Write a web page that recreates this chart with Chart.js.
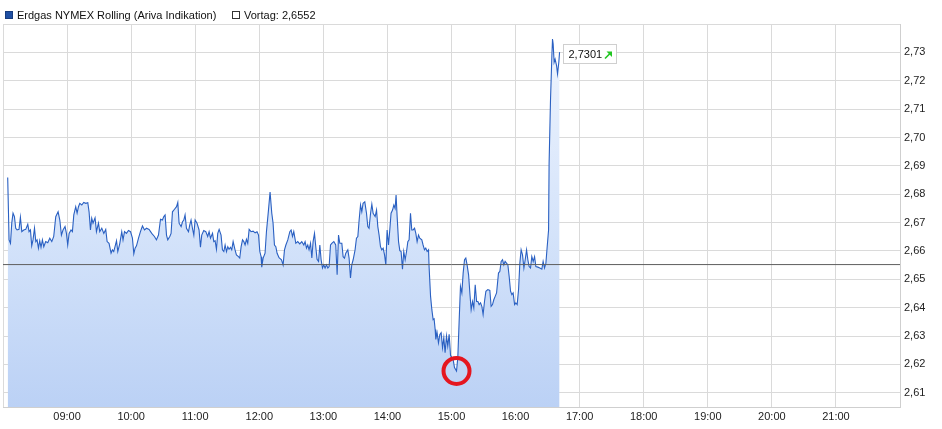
<!DOCTYPE html>
<html><head><meta charset="utf-8">
<script src="https://cdn.jsdelivr.net/npm/chart.js@4.4.1/dist/chart.umd.min.js"></script>
<style>html,body{margin:0;padding:0;background:#fff;overflow:hidden}#wrap{width:942px;height:429px;position:relative}</style>
</head><body><div id="wrap"><canvas id="c" width="942" height="429"></canvas></div>
<script>
const seriesName = 'Erdgas NYMEX Rolling (Ariva Indikation)';
const vortagLabel = 'Vortag';
const vortag = 2.6552;
// minutes after 08:00
const times = [4.4,5.7,7.0,8.2,9.4,10.7,11.9,13.2,15.0,16.3,17.6,19.4,21.3,23.2,24.4,25.7,26.9,28.1,29.5,30.7,31.9,33.2,34.4,35.6,36.9,38.2,40.0,41.9,43.8,45.7,47.5,49.4,51.6,53.2,54.7,56.2,58.1,59.4,60.6,61.9,63.7,65.0,66.3,68.1,69.4,70.7,71.9,73.8,75.6,77.5,79.4,80.6,81.9,83.1,84.3,86.2,87.5,89.4,90.6,92.5,94.4,96.2,97.5,99.3,101.2,102.5,103.7,104.9,106.3,107.5,109.3,111.2,112.4,113.8,115.6,117.5,119.4,121.2,122.5,123.7,125.0,126.9,128.7,130.6,132.5,134.4,136.8,139.3,141.8,143.7,145.6,147.5,149.3,150.6,151.8,153.1,154.3,156.2,157.4,158.7,160.6,162.5,163.7,164.9,166.8,168.1,169.3,170.5,171.8,173.7,174.9,176.1,177.4,178.7,179.9,181.7,183.6,184.9,186.1,188.0,189.9,191.7,193.0,194.3,196.2,197.4,198.6,199.9,201.1,202.4,204.2,205.5,206.8,208.0,209.3,210.5,211.7,213.0,214.2,215.5,217.3,218.6,220.5,221.7,223.0,224.3,225.5,226.7,228.0,229.2,230.5,232.3,234.2,236.1,237.9,239.3,240.5,241.7,242.3,243.6,245.4,246.7,248.6,250.1,251.7,252.9,254.2,255.5,256.7,258.5,260.8,262.3,263.6,264.9,266.7,268.6,269.8,271.1,272.3,274.2,276.0,277.9,279.8,281.7,282.9,284.2,285.4,286.6,288.0,289.2,290.4,291.7,292.9,294.1,295.5,296.7,297.9,299.2,300.4,301.6,302.9,304.2,305.4,306.7,307.9,309.8,311.6,312.9,314.2,315.4,317.3,318.5,319.8,321.0,322.9,324.1,325.4,326.6,327.9,329.7,331.0,332.3,333.5,334.8,336.0,337.2,338.8,340.4,341.6,342.8,344.2,345.4,346.6,348.5,349.8,351.0,352.2,353.5,354.7,356.0,357.3,358.5,359.7,361.0,362.2,363.4,364.8,366.0,367.2,368.1,369.1,370.4,371.6,372.8,374.1,375.3,376.6,377.9,379.1,380.3,381.6,382.8,384.0,385.4,386.6,387.8,389.1,390.3,392.2,393.4,394.7,395.9,397.2,398.5,399.0,400.4,401.6,402.8,403.7,404.7,405.3,406.5,407.8,409.1,410.3,411.6,412.8,414.0,415.3,416.5,417.8,419.1,420.3,421.5,422.8,424.7,425.9,427.1,428.4,429.7,430.9,432.2,433.4,434.6,436.0,437.2,438.4,439.7,440.9,442.2,443.5,444.7,445.9,447.2,448.4,449.6,450.9,452.2,454.0,455.9,457.1,458.4,459.6,460.9,462.2,464.0,465.3,466.5,467.8,469.0,470.2,471.5,472.8,474.0,475.3,476.5,477.7,479.1,480.3,481.5,482.8,484.0,485.2,486.5,487.8,489.0,490.3,491.5,492.7,494.0,495.2,496.5,497.8,499.0,500.9,502.7,504.6,505.8,507.1,508.4,509.6,510.9,511.4,512.7,514.0,514.6,515.2,516.1,517.0,518.4,519.3,520.5,521.2];
const prices = [2.6859,2.6639,2.6627,2.6698,2.6733,2.6721,2.6680,2.6674,2.6676,2.6719,2.6668,2.6674,2.6676,2.6694,2.6668,2.6674,2.6618,2.6639,2.6680,2.6633,2.6639,2.6610,2.6636,2.6613,2.6639,2.6615,2.6633,2.6629,2.6645,2.6633,2.6651,2.6721,2.6738,2.6709,2.6656,2.6674,2.6686,2.6662,2.6621,2.6662,2.6674,2.6668,2.6727,2.6756,2.6733,2.6756,2.6768,2.6762,2.6771,2.6768,2.6770,2.6738,2.6674,2.6715,2.6698,2.6717,2.6668,2.6698,2.6668,2.6680,2.6662,2.6676,2.6633,2.6627,2.6592,2.6604,2.6598,2.6615,2.6636,2.6598,2.6625,2.6668,2.6639,2.6668,2.6662,2.6672,2.6668,2.6645,2.6590,2.6610,2.6618,2.6645,2.6668,2.6688,2.6674,2.6680,2.6676,2.6662,2.6651,2.6639,2.6656,2.6712,2.6709,2.6721,2.6727,2.6656,2.6639,2.6651,2.6662,2.6738,2.6747,2.6756,2.6771,2.6698,2.6686,2.6703,2.6709,2.6727,2.6680,2.6668,2.6692,2.6709,2.6680,2.6656,2.6709,2.6698,2.6674,2.6613,2.6656,2.6672,2.6668,2.6651,2.6668,2.6645,2.6662,2.6633,2.6636,2.6606,2.6662,2.6676,2.6656,2.6604,2.6598,2.6621,2.6598,2.6615,2.6606,2.6613,2.6604,2.6633,2.6604,2.6586,2.6580,2.6575,2.6615,2.6639,2.6633,2.6621,2.6641,2.6627,2.6676,2.6668,2.6670,2.6664,2.6668,2.6656,2.6598,2.6580,2.6543,2.6575,2.6592,2.6668,2.6744,2.6808,2.6733,2.6698,2.6621,2.6615,2.6592,2.6576,2.6569,2.6551,2.6604,2.6621,2.6639,2.6668,2.6674,2.6651,2.6668,2.6627,2.6633,2.6625,2.6633,2.6621,2.6633,2.6610,2.6621,2.6604,2.6627,2.6575,2.6633,2.6662,2.6615,2.6571,2.6563,2.6621,2.6569,2.6540,2.6551,2.6540,2.6551,2.6540,2.6545,2.6621,2.6627,2.6633,2.6621,2.6516,2.6656,2.6627,2.6627,2.6580,2.6575,2.6592,2.6604,2.6575,2.6505,2.6551,2.6569,2.6604,2.6645,2.6651,2.6709,2.6762,2.6738,2.6768,2.6773,2.6733,2.6686,2.6680,2.6733,2.6765,2.6733,2.6721,2.6744,2.6686,2.6656,2.6615,2.6604,2.6610,2.6586,2.6551,2.6674,2.6621,2.6674,2.6733,2.6744,2.6762,2.6750,2.6797,2.6721,2.6633,2.6601,2.6598,2.6536,2.6598,2.6569,2.6598,2.6633,2.6639,2.6733,2.6674,2.6674,2.6680,2.6662,2.6633,2.6656,2.6645,2.6639,2.6621,2.6604,2.6610,2.6598,2.6604,2.6545,2.6440,2.6393,2.6358,2.6361,2.6323,2.6288,2.6312,2.6276,2.6306,2.6312,2.6259,2.6294,2.6241,2.6300,2.6265,2.6306,2.6232,2.6224,2.6218,2.6189,2.6177,2.6224,2.6347,2.6475,2.6452,2.6522,2.6569,2.6575,2.6551,2.6516,2.6452,2.6393,2.6422,2.6399,2.6481,2.6422,2.6422,2.6411,2.6417,2.6405,2.6376,2.6422,2.6458,2.6464,2.6461,2.6405,2.6411,2.6428,2.6440,2.6452,2.6522,2.6528,2.6563,2.6569,2.6551,2.6563,2.6557,2.6551,2.6510,2.6458,2.6446,2.6452,2.6411,2.6417,2.6411,2.6464,2.6557,2.6604,2.6586,2.6540,2.6569,2.6604,2.6569,2.6545,2.6540,2.6580,2.6563,2.6580,2.6545,2.6543,2.6540,2.6536,2.6563,2.6540,2.6557,2.6615,2.6674,2.6909,2.7130,2.7288,2.7347,2.7329,2.7265,2.7276,2.7253,2.7224,2.7265,2.7301];
const xTickLabels = ['09:00','10:00','11:00','12:00','13:00','14:00','15:00','16:00','17:00','18:00','19:00','20:00','21:00'];
const yTicks = [2.61,2.62,2.63,2.64,2.65,2.66,2.67,2.68,2.69,2.70,2.71,2.72,2.73];

const X_MIN = 0, X_MAX = 840, Y_MIN = 2.605, Y_MAX = 2.74;
const fmt = (v, d) => v.toFixed(d).replace('.', ',');
const hourValue = lbl => (parseInt(lbl, 10) - 8) * 60;
const xTickValues = [X_MIN].concat(xTickLabels.map(hourValue), [X_MAX]);

const series = times.map((t, i) => ({ x: t, y: prices[i] }));
let minIdx = 0;
prices.forEach((p, i) => { if (p < prices[minIdx]) minIdx = i; });

Chart.defaults.font.family = '"Liberation Sans", Arial, sans-serif';
Chart.defaults.font.size = 11;
Chart.defaults.color = '#222';

const overlay = {
  id: 'overlay',
  afterDraw(chart) {
    const ctx = chart.ctx;
    ctx.save();
    ctx.font = '11px "Liberation Sans", Arial, sans-serif';
    ctx.textBaseline = 'middle';
    ctx.textAlign = 'left';
    // legend
    ctx.fillStyle = '#1f4fa3';
    ctx.fillRect(5, 11, 8, 8);
    ctx.strokeStyle = '#173c7e'; ctx.lineWidth = 1;
    ctx.strokeRect(5.5, 11.5, 7, 7);
    ctx.fillStyle = '#111';
    ctx.fillText(seriesName, 17, 15.5);
    ctx.fillStyle = '#fff';
    ctx.fillRect(232, 11, 8, 8);
    ctx.strokeStyle = '#333';
    ctx.strokeRect(232.5, 11.5, 7, 7);
    ctx.fillStyle = '#111';
    ctx.fillText(vortagLabel + ': ' + fmt(vortag, 4), 244, 15.5);
    // last value label
    const meta = chart.getDatasetMeta(0);
    const pt = meta.data[meta.data.length - 1];
    const bx = Math.round(pt.x) + 3.5, by = Math.round(pt.y) - 7.5, bw = 53, bh = 19;
    ctx.fillStyle = '#fff';
    ctx.fillRect(bx, by, bw, bh);
    ctx.strokeStyle = '#cfcfcf';
    ctx.strokeRect(bx, by, bw, bh);
    ctx.fillStyle = '#111';
    ctx.fillText(fmt(prices[prices.length - 1], 4), bx + 5, by + bh / 2 + 0.5);
    // green arrow
    const ax = bx + 41.5, ay = by + 14;
    ctx.strokeStyle = '#22c622'; ctx.fillStyle = '#22c622'; ctx.lineWidth = 1.6;
    ctx.beginPath(); ctx.moveTo(ax, ay); ctx.lineTo(ax + 5, ay - 5); ctx.stroke();
    ctx.beginPath(); ctx.moveTo(ax + 7, ay - 7); ctx.lineTo(ax + 7, ay - 1.5); ctx.lineTo(ax + 1.5, ay - 7); ctx.closePath(); ctx.fill();
    ctx.restore();
  }
};

new Chart(document.getElementById('c'), {
  type: 'line',
  data: {
    datasets: [
      {
        label: seriesName,
        data: series,
        borderColor: '#2a60c2',
        borderWidth: 1.1,
        pointRadius: 0,
        tension: 0,
        fill: 'start',
        backgroundColor: (c) => {
          const a = c.chart.chartArea;
          if (!a) return 'rgba(200,220,248,1)';
          const g = c.chart.ctx.createLinearGradient(0, a.top, 0, a.bottom);
          g.addColorStop(0, 'rgb(240,245,254)');
          g.addColorStop(0.55, 'rgb(212,227,250)');
          g.addColorStop(1, 'rgb(187,209,245)');
          return g;
        },
        order: 3
      },
      {
        label: vortagLabel,
        data: [{ x: X_MIN, y: vortag }, { x: X_MAX, y: vortag }],
        borderColor: '#5e5e5e',
        borderWidth: 1,
        pointRadius: 0,
        fill: false,
        order: 2
      },
      {
        label: 'Tief',
        data: [{ x: times[minIdx], y: prices[minIdx] }],
        showLine: false,
        pointRadius: 13,
        pointHoverRadius: 13,
        pointBorderWidth: 4,
        pointBorderColor: '#e5161f',
        pointBackgroundColor: 'rgba(0,0,0,0)',
        clip: false,
        order: 1
      }
    ]
  },
  options: {
    responsive: false,
    animation: false,
    devicePixelRatio: 1,
    layout: { autoPadding: false, padding: { top: 24, left: 3, right: 0, bottom: 0 } },
    plugins: { legend: { display: false }, tooltip: { enabled: false } },
    events: [],
    scales: {
      x: {
        type: 'linear',
        min: X_MIN, max: X_MAX,
        afterBuildTicks: s => { s.ticks = xTickValues.map(v => ({ value: v })); },
        afterFit: s => { s.height = 22; s.paddingLeft = 0; s.paddingRight = 0; },
        grid: { color: '#dadada', drawTicks: false, lineWidth: 1 },
        border: { color: '#cfcfcf' },
        ticks: {
          autoSkip: false, maxRotation: 0, padding: 3, color: '#222',
          callback: (v) => { const i = xTickLabels.findIndex(l => hourValue(l) === v); return i >= 0 ? xTickLabels[i] : ''; }
        }
      },
      y: {
        position: 'right',
        min: Y_MIN, max: Y_MAX,
        afterBuildTicks: s => { s.ticks = yTicks.concat([Y_MAX]).map(v => ({ value: v })); },
        afterFit: s => { s.width = 42; s.paddingTop = 0; s.paddingBottom = 0; },
        grid: { color: '#dadada', drawTicks: false, lineWidth: 1 },
        border: { color: '#cfcfcf' },
        ticks: {
          padding: 4, color: '#222',
          callback: (v) => yTicks.some(t => Math.abs(t - v) < 1e-9) ? fmt(v, 2) : ''
        }
      }
    }
  },
  plugins: [overlay]
});
</script>
</body></html>
